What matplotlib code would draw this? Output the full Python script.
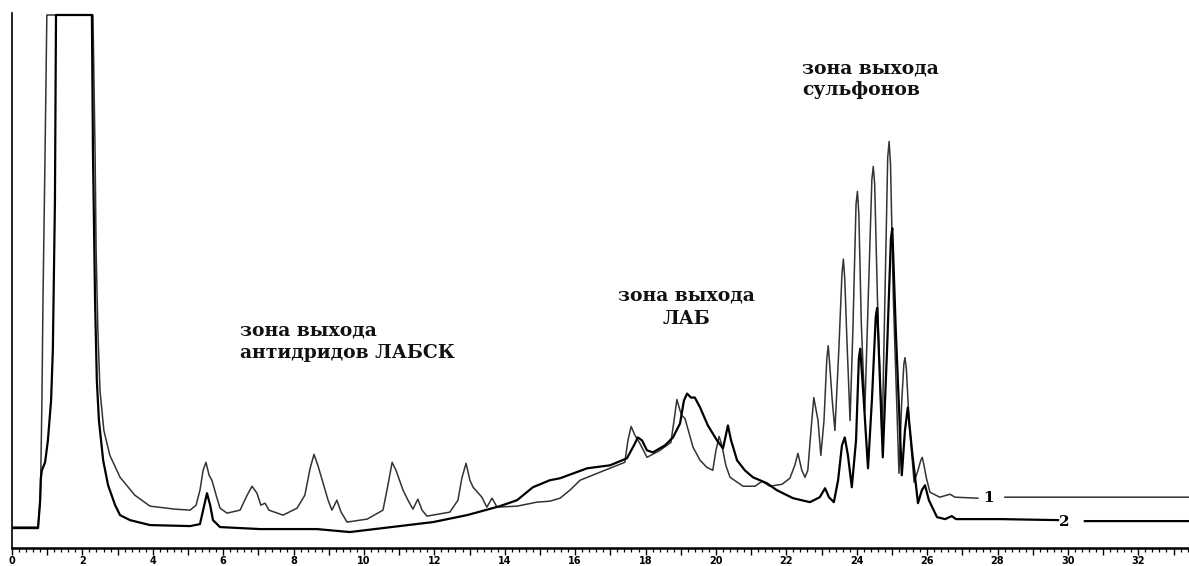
import numpy as np
import matplotlib.pyplot as plt
from matplotlib.ticker import MultipleLocator, FuncFormatter

# хроматограмма 1 (тонкая линия): время, мин / сигнал
t1 = [0.0, 0.74, 0.80, 0.82, 0.85, 0.88, 0.94, 0.99, 2.30, 2.36, 2.39, 2.44, 2.50, 2.61, 2.78,
      3.07, 3.49, 3.92, 4.63, 5.06, 5.23, 5.34, 5.43, 5.51, 5.60, 5.68, 5.80, 5.91, 6.11,
      6.48, 6.68, 6.82, 6.96, 7.07, 7.19, 7.30, 7.70, 8.10, 8.32, 8.47, 8.58, 8.69, 8.84,
      8.98, 9.09, 9.23, 9.35, 9.52, 10.09, 10.54, 10.68, 10.80, 10.91, 11.11, 11.25, 11.39,
      11.53, 11.65, 11.79, 12.44, 12.67, 12.78, 12.90, 13.01, 13.10, 13.35, 13.49, 13.64,
      13.78, 14.35, 14.91, 15.28, 15.57, 15.85, 16.14, 16.70, 17.41, 17.50, 17.59, 17.70,
      17.84, 18.04, 18.41, 18.72, 18.81, 18.89, 18.98, 19.03, 19.12, 19.35, 19.55, 19.74,
      19.91, 20.00, 20.09, 20.17, 20.28, 20.40, 20.77, 21.11, 21.31, 21.53, 21.88, 22.10,
      22.24, 22.33, 22.44, 22.53, 22.61, 22.70, 22.78, 22.90, 22.98, 23.07, 23.15, 23.19,
      23.23, 23.30, 23.38, 23.49, 23.58, 23.62, 23.66, 23.72, 23.81, 23.89, 23.98, 24.02,
      24.06, 24.13, 24.23, 24.35, 24.43, 24.47, 24.51, 24.59, 24.72, 24.80, 24.88, 24.92,
      24.96, 25.04, 25.20, 25.28, 25.34, 25.37, 25.41, 25.49, 25.63, 25.74, 25.82, 25.86,
      25.90, 25.98, 26.08, 26.36, 26.65, 26.79, 27.44, np.nan, 28.21, 33.44]
y1 = [21, 21, 48, 78, 148, 248, 398, 535, 535, 398, 298, 218, 158, 118, 93,
      71, 53, 42, 39, 38, 43, 58, 78, 86, 73, 68, 53, 40, 35,
      38, 53, 62, 55, 43, 45, 38, 33, 40, 53, 80, 94, 83, 65,
      48, 38, 48, 36, 26, 29, 38, 63, 86, 78, 58, 48, 39,
      49, 38, 32, 36, 48, 70, 85, 68, 61, 51, 41, 50,
      41, 42, 46, 47, 50, 58, 68, 76, 86, 108, 122, 113,
      105, 91, 98, 106, 128, 149, 138, 133, 130, 101, 88, 81,
      78, 98, 112, 103, 83, 71, 62, 62, 67, 62, 64, 70,
      83, 95, 78, 71, 78, 118, 151, 128, 93, 128, 190, 203,
      185, 150, 118, 198, 275, 290, 270, 210, 128, 218, 345, 358,
      335, 225, 138, 278, 370, 383, 365, 248, 108, 248, 392, 408,
      385, 250, 75, 148, 185, 191, 180, 125, 66, 78, 88, 91,
      85, 70, 56, 51, 54, 51, 50, np.nan, 51, 51]

# хроматограмма 2 (жирная линия)
t2 = [0.0, 0.74, 0.80, 0.82, 0.85, 0.94, 1.02, 1.11, 1.16, 1.22, 1.25, 2.27, 2.30, 2.36,
      2.41, 2.47, 2.59, 2.73, 2.93, 3.07, 3.35, 3.92, 5.06, 5.34, 5.43, 5.54, 5.63, 5.71,
      5.91, 7.05, 8.66, 9.60, 10.54, 11.96, 12.93, 13.86, 14.35, 14.80, 15.28, 15.57,
      16.34, 16.99, 17.47, 17.67, 17.78, 17.90, 18.04, 18.21, 18.55, 18.78, 18.98, 19.09,
      19.18, 19.29, 19.40, 19.55, 19.77, 20.03, 20.20, 20.28, 20.34, 20.43, 20.60, 20.82,
      21.05, 21.45, 21.73, 22.19, 22.67, 22.95, 23.10, 23.21, 23.35, 23.47, 23.58, 23.66,
      23.75, 23.86, 23.98, 24.06, 24.10, 24.20, 24.32, 24.43, 24.54, 24.58, 24.66, 24.74,
      24.86, 24.97, 25.01, 25.11, 25.28, 25.37, 25.45, 25.57, 25.74, 25.85, 25.94, 26.05,
      26.28, 26.51, 26.70, 26.82, 28.07, 29.72, np.nan, 30.48, 33.44]
y2 = [20, 20, 48, 70, 78, 86, 108, 148, 198, 348, 535, 535, 398, 248,
      168, 128, 88, 63, 43, 33, 28, 23, 22, 24, 38, 55, 43, 28,
      21, 19, 19, 16, 20, 26, 33, 42, 48, 61, 68, 70,
      80, 83, 90, 103, 111, 108, 98, 96, 103, 111, 125, 148,
      155, 151, 151, 141, 123, 108, 100, 113, 123, 108, 88, 78,
      71, 65, 58, 50, 46, 51, 60, 51, 46, 68, 103, 111,
      93, 61, 108, 190, 200, 148, 80, 148, 232, 241, 168, 91,
      198, 310, 321, 218, 73, 118, 141, 98, 45, 58, 63, 48,
      31, 29, 32, 29, 29, 28, np.nan, 27, 27]

# подписи зон
zones = [
    (6.48, [(213, 'зона выхода'), (191, 'антидридов ЛАБСК')], 'left'),
    (19.15, [(248, 'зона выхода'), (225, 'ЛАБ')], 'center'),
    (22.44, [(476, 'зона выхода'), (455, 'сульфонов')], 'left'),
]
curve_labels = [(27.73, 50, '1'), (29.89, 26, '2')]

fig = plt.figure(figsize=(11.89, 5.66), dpi=100)
ax = fig.add_axes([12 / 1189, 18 / 566, 1177 / 1189, 535 / 566])

ax.plot(t1, y1, color='#333333', lw=1.1, solid_joinstyle='round')
ax.plot(t2, y2, color='black', lw=1.6, solid_joinstyle='round')

for x, lines, ha in zones:
    for y, s in lines:
        ax.text(x, y, s, ha=ha, va='baseline', fontsize=13.5,
                family='DejaVu Serif', fontweight='bold', color='#111111')

for x, y, s in curve_labels:
    ax.text(x, y, s, ha='center', va='center', fontsize=11,
            family='DejaVu Serif', fontweight='bold')

ax.set_xlim(0, 33.44)
ax.set_ylim(0, 537)

ax.spines['top'].set_visible(False)
ax.spines['right'].set_visible(False)
ax.spines['bottom'].set_linewidth(1.8)
ax.spines['left'].set_linewidth(1.2)

ax.xaxis.set_major_locator(MultipleLocator(1))
ax.xaxis.set_minor_locator(MultipleLocator(0.2))
ax.xaxis.set_major_formatter(FuncFormatter(lambda v, p: '%d' % v if int(round(v)) % 2 == 0 else ''))
ax.tick_params(axis='x', which='major', length=5, width=1.0, pad=0.8,
               labelsize=7)
ax.tick_params(axis='x', which='minor', length=3, width=0.9)
for lab in ax.get_xticklabels():
    lab.set_fontweight('bold')
ax.set_yticks([])

fig.savefig('out.png', dpi=100)
